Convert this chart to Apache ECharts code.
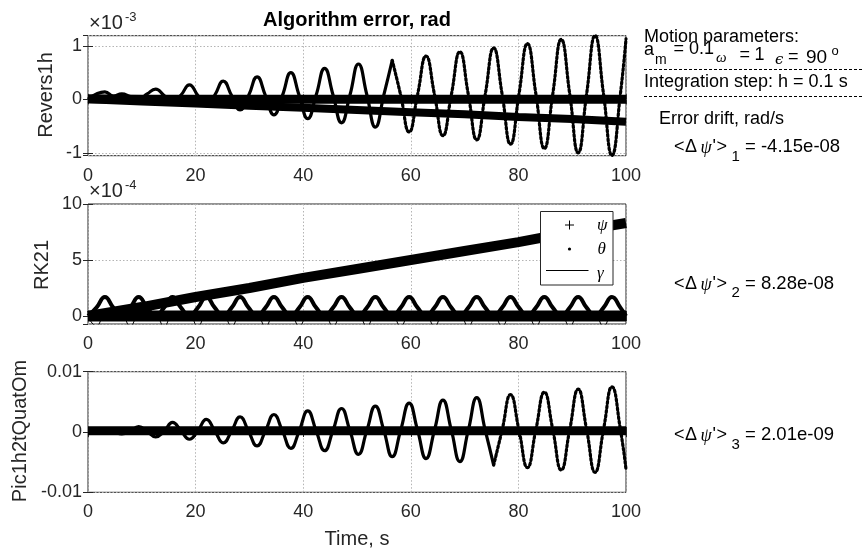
<!DOCTYPE html>
<html><head><meta charset="utf-8">
<script src="https://cdn.jsdelivr.net/npm/echarts@6/dist/echarts.min.js"></script>
<style>html,body{margin:0;padding:0;background:#fff}#c{width:863px;height:549px}</style>
</head><body><div id="c"></div>
<script>
// ---------- data ----------
// time samples at quarter periods (omega = 1), seconds
const tQuarter = [0,1.57,3.14,4.71,6.28,7.85,9.42,11.00,12.57,14.14,15.71,17.28,18.85,20.42,21.99,23.56,
  25.13,26.70,28.27,29.85,31.42,32.99,34.56,36.13,37.70,39.27,40.84,42.41,43.98,45.55,47.12,48.69,
  50.27,51.84,53.41,54.98,56.55,58.12,59.69,61.26,62.83,64.40,65.97,67.54,69.12,70.69,72.26,73.83,
  75.40,76.97,78.54,80.11,81.68,83.25,84.82,86.39,87.96,89.54,91.11,92.68,94.25,95.82,97.39,98.96,100];
const tCoarse = [0,10,20,30,40,50,60,70,80,90,100];

// Panel 1: Revers1h (values x 1e-3)
const reversTheta = [0,0.10,0.14,0.06,0.10,0.05,0.00,0.10,0.19,0.07,-0.05,0.08,0.27,0.07,-0.12,0.08,
  0.34,0.07,-0.20,0.07,0.42,0.07,-0.29,0.07,0.50,0.07,-0.36,0.08,0.58,0.08,-0.44,0.08,
  0.66,0.08,-0.52,0.08,0.73,0.08,-0.61,0.09,0.81,0.09,-0.68,0.09,0.89,0.09,-0.76,0.09,
  0.96,0.10,-0.84,0.10,1.04,0.10,-0.92,0.10,1.12,0.10,-1.00,0.10,1.19,0.10,-1.05,0.10,1.13];
const reversPsi = [0,-0.04,-0.08,-0.12,-0.16,-0.20,-0.24,-0.28,-0.33,-0.37,-0.42];
const reversGamma = [0.01,0,0,0,0,0,0,0,0,0,0];

// Panel 2: RK21 (values x 1e-4)
const rk21Psi = [0,0.8,1.7,2.5,3.4,4.2,5.0,5.8,6.6,7.5,8.3];
const rk21Theta = [0,0.75,1.7,0.75,0,0.75,1.7,0.75,0,0.75,1.7,0.75,0,0.75,1.7,0.75,
  0,0.75,1.7,0.75,0,0.75,1.7,0.75,0,0.75,1.7,0.75,0,0.75,1.7,0.75,
  0,0.75,1.7,0.75,0,0.75,1.7,0.75,0,0.75,1.7,0.75,0,0.75,1.7,0.75,
  0,0.75,1.7,0.75,0,0.75,1.7,0.75,0,0.75,1.7,0.75,0,0.75,1.7,0.75,0];
const rk21Gamma = [0,-0.9,0,0,0,-0.9,0,0,0,-0.9,0,0,0,-0.9,0,0,
  0,-0.9,0,0,0,-0.9,0,0,0,-0.9,0,0,0,-0.9,0,0,
  0,-0.9,0,0,0,-0.9,0,0,0,-0.9,0,0,0,-0.9,0,0,
  0,-0.9,0,0,0,-0.9,0,0,0,-0.9,0,0,0,-0.9,0,0,0];
const rk21Band = [0,0,0,0,0,0,0,0,0,0,0];

// Panel 3: Pic1h2tQuatOm (rad)
const picTheta = [0,0.0001,0.0003,0.0001,-0.0003,0.0001,0.0009,0.0001,-0.0008,0.0001,0.0016,0.0002,-0.0012,0.0002,0.0021,0.0002,
  -0.0018,0.0002,0.0025,0.0001,-0.0023,0.0002,0.0029,0.0002,-0.0027,0.0002,0.0035,0.0002,-0.0031,0.0003,0.0039,0.0002,
  -0.0037,0.0003,0.0043,0.0003,-0.0041,0.0003,0.0048,0.0003,-0.0044,0.0003,0.0053,0.0003,-0.0049,0.0003,0.0057,0.0003,
  -0.0055,0.0003,0.0062,0.0003,-0.0059,0.0004,0.0066,0.0004,-0.0063,0.0004,0.0071,0.0004,-0.0067,0.0004,0.0075,0.0004,-0.0062];
const picBand = [0.0002,0.0002,0.0002,0.0002,0.0002,0.0002,0.0002,0.0002,0.0002,0.0002,0.0002];

const xTickLabels = ['0','20','40','60','80','100'];
const driftTexts = ['-4.15e-08','8.28e-08','2.01e-09'];

// ---------- chart ----------
const zip = (xs, ys) => xs.map((x, i) => [x, ys[i]]);
const AX = '#262626';
const FONT = '"Liberation Sans", Arial, sans-serif';
const SERIF = '"Liberation Serif", "DejaVu Serif", serif';

const grids = [
  {left: 88, top: 35.7, width: 538, height: 120},
  {left: 88, top: 204, width: 538, height: 120},
  {left: 88, top: 371.7, width: 538, height: 120.6}
].map(g => Object.assign(g, {show: true, borderColor: AX, borderWidth: 1, backgroundColor: 'transparent'}));

const gridLine = {show: true, lineStyle: {color: '#b4b4b4', type: [1.5, 2], width: 1}};
const xAxes = [], yAxes = [];
for (let i = 0; i < 3; i++) {
  xAxes.push({type: 'value', gridIndex: i, min: 0, max: 100, interval: 20,
    axisLine: {show: false}, axisTick: {inside: true, length: 5, lineStyle: {color: AX}},
    splitLine: gridLine,
    axisLabel: {fontSize: 18, fontFamily: FONT, color: AX, margin: 11,
      formatter: v => xTickLabels[Math.round(v / 20)]}});
}
for (let i = 0; i < 3; i++) {
  xAxes.push({type: 'value', gridIndex: i, position: 'top', min: 0, max: 100, interval: 20,
    axisLine: {show: false}, axisTick: {inside: true, length: 5, lineStyle: {color: AX}},
    splitLine: {show: false}, axisLabel: {show: false}});
}
const yCfg = [
  {min: -1.054, max: 1.189, splitNumber: 2, hideMin: true, hideMax: true},
  {min: -0.714, max: 10, splitNumber: 2, hideMin: true, hideMax: false},
  {min: -0.01, max: 0.01, interval: 0.01, hideMin: false, hideMax: false}
];
const fmt = v => (Math.abs(v) < 1e-12 ? '0' : String(+v.toFixed(4)));
yCfg.forEach((c, i) => {
  const base = {type: 'value', gridIndex: i, min: c.min, max: c.max};
  if (c.interval) base.interval = c.interval; else base.splitNumber = c.splitNumber;
  yAxes.push(Object.assign({}, base, {
    axisLine: {show: false}, axisTick: {inside: true, length: 5, lineStyle: {color: AX}},
    splitLine: gridLine,
    axisLabel: {fontSize: 18, fontFamily: FONT, color: AX, margin: 6, formatter: fmt,
      showMinLabel: !c.hideMin, showMaxLabel: !c.hideMax}}));
});
yCfg.forEach((c, i) => {
  const base = {type: 'value', gridIndex: i, position: 'right', min: c.min, max: c.max};
  if (c.interval) base.interval = c.interval; else base.splitNumber = c.splitNumber;
  yAxes.push(Object.assign({}, base, {
    axisLine: {show: false}, axisTick: {inside: true, length: 5, lineStyle: {color: AX}},
    splitLine: {show: false}, axisLabel: {show: false}}));
});

function band(idx, xs, ys, w) {
  return {type: 'line', xAxisIndex: idx, yAxisIndex: idx, data: zip(xs, ys), symbol: 'none',
    lineStyle: {color: '#000', width: w}, silent: true, animation: false};
}
// oscillating curve: solid where the sampled dots merge, dashed where they separate (late, steep part)
function curve(idx, xs, ys, w, tSplit, dash) {
  const pts = zip(xs, ys);
  const out = [];
  const early = tSplit == null ? pts : pts.filter(p => p[0] <= tSplit);
  out.push({type: 'line', xAxisIndex: idx, yAxisIndex: idx, data: early, symbol: 'none', smooth: 0.5,
    lineStyle: {color: '#000', width: w}, silent: true, animation: false});
  if (tSplit != null) {
    out.push({type: 'line', xAxisIndex: idx, yAxisIndex: idx, data: pts.filter(p => p[0] >= tSplit),
      symbol: 'none', smooth: 0.5, lineStyle: {color: '#000', width: w, type: dash, cap: 'round'},
      silent: true, animation: false});
  }
  return out;
}
const series = [
  band(0, tCoarse, reversGamma, 9), band(0, tCoarse, reversPsi, 8),
  ...curve(0, tQuarter, reversTheta, 3.2, 56.55, [2, 2.5]),
  band(1, tCoarse, rk21Band, 11), band(1, tCoarse, rk21Psi, 10),
  ...curve(1, tQuarter, rk21Theta, 4), ...curve(1, tQuarter, rk21Gamma, 1),
  band(2, tCoarse, picBand, 9),
  ...curve(2, tQuarter, picTheta, 3.2, 75.40, [2, 2.5])
];

function txt(x, y, text, font, opt) {
  return {type: 'text', z: 100, style: Object.assign({x: x, y: y, text: text, font: font,
    fill: '#000', align: 'left', verticalAlign: 'middle'}, opt || {})};
}
function rtxt(x, y, text, font) {
  return {type: 'text', z: 100, x: x, y: y, rotation: Math.PI / 2,
    style: {x: 0, y: 0, text: text, font: font, fill: AX, align: 'center', verticalAlign: 'middle'}};
}
const F18 = '18px ' + FONT, F14 = '14px ' + FONT;
const graphic = [
  txt(357, 20.7, 'Algorithm error, rad', 'bold 20px ' + FONT, {align: 'center'}),
  txt(357, 539.5, 'Time, s', '20px ' + FONT, {align: 'center', fill: AX}),
  rtxt(46, 95, 'Revers1h', '20px ' + FONT),
  rtxt(42.5, 265, 'RK21', '20px ' + FONT),
  rtxt(20, 431, 'Pic1h2tQuatOm', '20px ' + FONT),
  // exponent labels
  txt(89, 23.3, '\u00d710', '20px ' + FONT, {fill: AX}),
  txt(125, 17, '-3', '13px ' + FONT, {fill: AX}),
  txt(89, 191.5, '\u00d710', '20px ' + FONT, {fill: AX}),
  txt(125, 185.5, '-4', '13px ' + FONT, {fill: AX}),
  // motion parameters block
  txt(644, 36.7, 'Motion parameters:', F18),
  txt(644, 49.6, 'a', F18),
  txt(655, 60.3, 'm', F14),
  txt(673.5, 49.5, '=', F18),
  txt(689, 49.5, '0.1', F18),
  txt(716, 58, '\u03c9', 'italic 15px ' + SERIF),
  txt(739.5, 55.5, '=', F18),
  txt(754.5, 55.5, '1', F18),
  txt(775, 60.5, '\u03f5', 'italic 15px "DejaVu Serif", serif'),
  txt(788, 57.5, '=', F18),
  txt(806, 57.5, '90', '19px ' + FONT),
  txt(831.5, 51.5, 'o', '13px ' + FONT),
  {type: 'line', z: 100, shape: {x1: 644, y1: 69.5, x2: 863, y2: 69.5}, style: {stroke: '#000', lineWidth: 1, lineDash: [3, 2]}},
  txt(644, 81.7, 'Integration step: h = 0.1 s', F18),
  {type: 'line', z: 100, shape: {x1: 644, y1: 96.5, x2: 863, y2: 96.5}, style: {stroke: '#000', lineWidth: 1, lineDash: [3, 2]}},
  txt(659, 118.8, 'Error drift, rad/s', F18),
  // legend box
  {type: 'rect', z: 100, shape: {x: 540.5, y: 211.5, width: 72.5, height: 73.5}, style: {fill: '#fff', stroke: AX, lineWidth: 1}},
  {type: 'line', z: 101, shape: {x1: 565, y1: 225, x2: 574, y2: 225}, style: {stroke: '#000', lineWidth: 1}},
  {type: 'line', z: 101, shape: {x1: 569.5, y1: 220.5, x2: 569.5, y2: 229.5}, style: {stroke: '#000', lineWidth: 1}},
  {type: 'circle', z: 101, shape: {cx: 569.5, cy: 249, r: 1.6}, style: {fill: '#000'}},
  {type: 'line', z: 101, shape: {x1: 546, y1: 270.5, x2: 588.5, y2: 270.5}, style: {stroke: '#000', lineWidth: 1}},
  Object.assign(txt(597, 226, '\u03c8', 'italic 17px ' + SERIF), {z: 102}),
  Object.assign(txt(597.5, 250, '\u03b8', 'italic 17px ' + SERIF), {z: 102}),
  Object.assign(txt(597, 274, '\u03b3', 'italic 17px ' + SERIF), {z: 102})
];
// drift annotations
[[147, 0], [283.8, 1], [435, 2]].forEach(([y, i]) => {
  graphic.push(txt(674, y, '<', F18));
  graphic.push(txt(685, y, '\u0394', F18));
  graphic.push(txt(700.5, y + 1, '\u03c8', 'italic 18px ' + SERIF));
  graphic.push(txt(712.5, y, "'", F18));
  graphic.push(txt(716.5, y, '>', F18));
  graphic.push(txt(731.5, y + 9.4, String(i + 1), '15px ' + FONT));
  graphic.push(txt(745, y, '= ' + driftTexts[i], '18.5px ' + FONT));
});

const chart = echarts.init(document.getElementById('c'), null, {renderer: 'canvas'});
chart.setOption({
  animation: false,
  backgroundColor: '#fff',
  grid: grids,
  xAxis: xAxes,
  yAxis: yAxes,
  series: series,
  graphic: {elements: graphic}
});
</script></body></html>
